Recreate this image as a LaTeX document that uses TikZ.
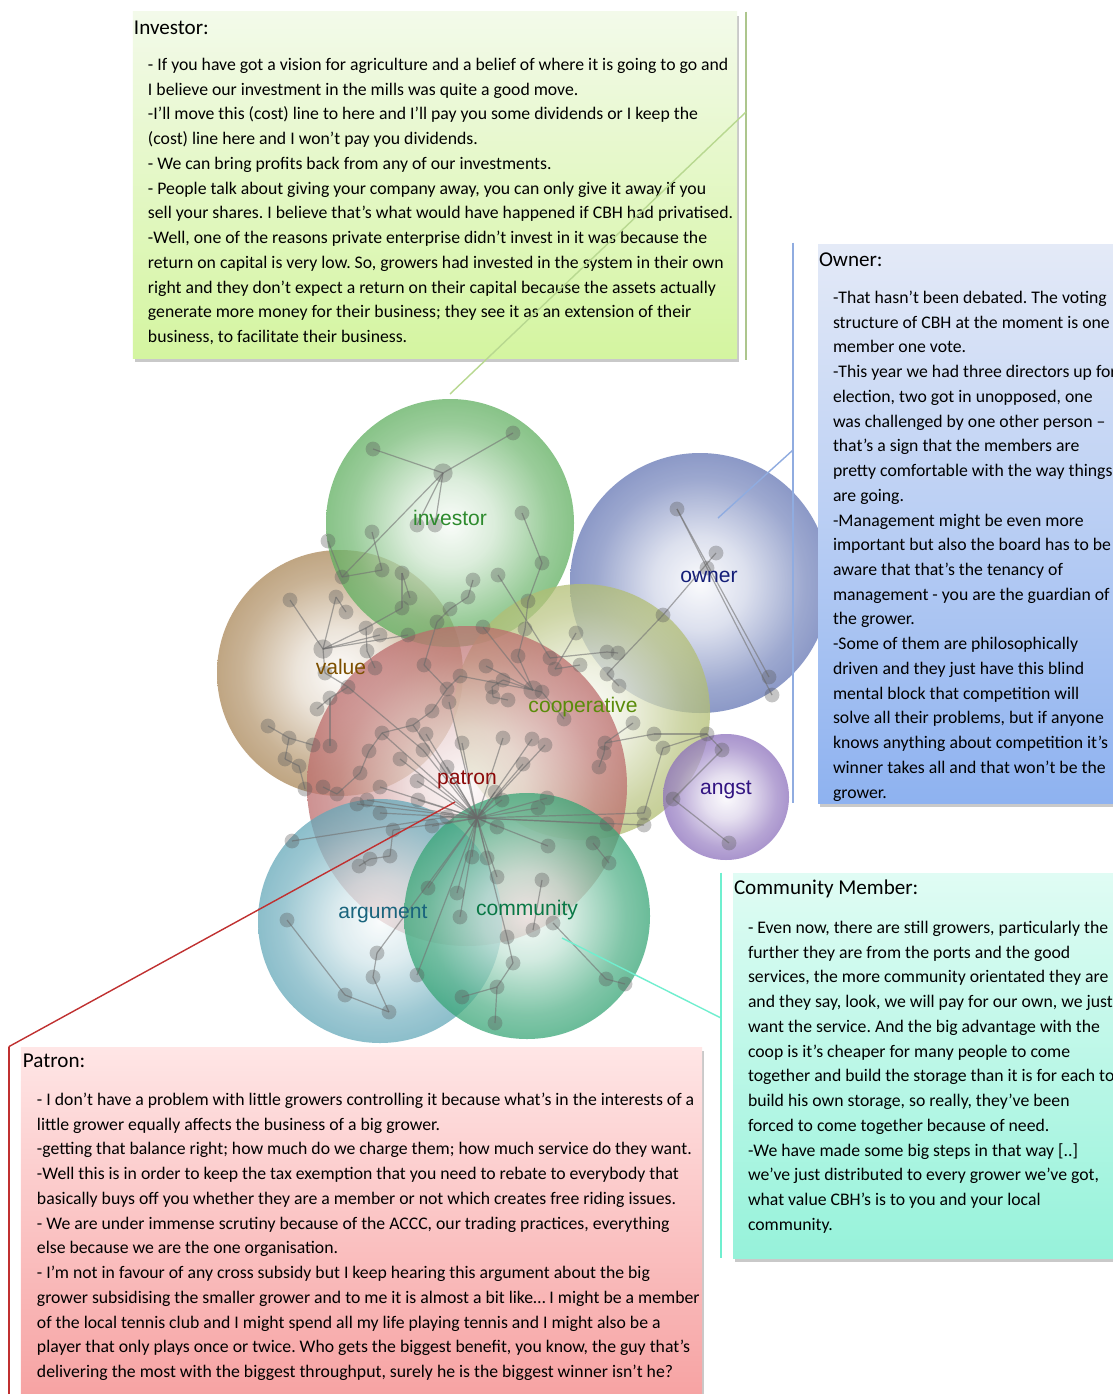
\documentclass[tikz,border=0pt]{standalone}
\usepackage{fontspec}
\setmainfont{Carlito}
\newfontfamily\bubfont{Liberation Sans}
\usepackage{tikz}
\usetikzlibrary{positioning,shadows}
\frenchspacing

% bubble rims
\definecolor{valrim}{RGB}{170,135,88}
\definecolor{invrim}{RGB}{95,175,95}
\definecolor{ownrim}{RGB}{100,118,180}
\definecolor{cooprim}{RGB}{178,190,115}
\definecolor{patrim}{RGB}{188,108,108}
\definecolor{argrim}{RGB}{100,168,185}
\definecolor{comrim}{RGB}{55,165,118}
\definecolor{angrim}{RGB}{140,112,188}
% bubble labels
\definecolor{invtxt}{HTML}{2E8B2E}
\definecolor{valtxt}{HTML}{7D5000}
\definecolor{owntxt}{HTML}{141E78}
\definecolor{cooptxt}{HTML}{5A8C0A}
\definecolor{pattxt}{HTML}{8C0A0A}
\definecolor{angtxt}{HTML}{321482}
\definecolor{argtxt}{HTML}{19647D}
\definecolor{comtxt}{HTML}{0A7846}
% quote cards
\definecolor{invtop}{HTML}{F3FAEA}
\definecolor{invbot}{HTML}{D4F5A0}
\definecolor{owntop}{HTML}{E4EAF7}
\definecolor{ownbot}{HTML}{8EB2F0}
\definecolor{comtop}{HTML}{E0FCF4}
\definecolor{combot}{HTML}{96F2DA}
\definecolor{pattop}{HTML}{FFE6E6}
\definecolor{patbot}{HTML}{F6A0A0}
\definecolor{invline}{HTML}{B8D890}
\definecolor{ownline}{HTML}{90ACE0}
\definecolor{comline}{HTML}{70EFCF}
\definecolor{patline}{HTML}{C03030}

\colorlet{bubcol}{gray}
\pgfdeclareradialshading[bubcol]{sphereshade}{\pgfpoint{0bp}{0bp}}{color(0bp)=(bubcol!4!white); color(9bp)=(bubcol!30!white); color(20bp)=(bubcol!85!white); color(25bp)=(bubcol); color(50bp)=(bubcol)}

\begin{document}
\begin{tikzpicture}[x=0.25mm,y=-0.25mm,
  sphere/.style={shading=sphereshade,fill opacity=.74},
  lbl/.style={font=\bubfont\fontsize{15}{18}\selectfont},
  dot/.style={circle,fill=black!65,fill opacity=.35,inner sep=0pt,minimum size=3.7mm},
  hubdot/.style={dot,minimum size=4.8mm},
  link/.style={draw=black!55,draw opacity=.6,line width=.3mm},
  card/.style={rectangle,inner sep=0pt,general shadow={fill=black!60,opacity=.35,shadow xshift=.6mm,shadow yshift=-.9mm}},
  head/.style={anchor=base west,inner sep=0pt,font=\fontsize{15}{18}\selectfont},
  body/.style={anchor=north west,inner sep=0pt,align=left,font=\fontsize{12.6}{17.6}\selectfont},
  bar/.style={line width=.45mm},
  pointer/.style={line width=.35mm}
]
  \useasboundingbox (0,0) rectangle (1113,1394);
  \fill[white] (0,0) rectangle (1113,1394);

  % the code bubbles
  \foreach \cx/\cy/\r/\col in {340/673/123/valrim, 450/523/124/invrim, 700/583/130/ownrim,
      582/712/128/cooprim, 467/786/160/patrim, 380/921/122/argrim, 527/916/123/comrim, 726/797/63/angrim}{
    \colorlet{bubcol}{\col}
    \shade[sphere] (\cx,\cy) circle (\r);
  }

  % the quote network
  \foreach \i/\x/\y in {1/373/449, 2/513/433, 3/443/473, 4/417/525, 5/435/525, 6/372/532, 7/522/513,
      8/328/541, 9/382/570, 10/342/577, 11/402/573, 12/542/563, 13/473/580, 14/498/575, 15/410/598,
      16/402/608, 17/468/597, 18/528/601, 19/450/609, 20/437/622, 21/483/627, 22/525/629,
      23/290/600, 24/336/597, 25/346/612, 26/366/628, 27/380/635, 28/408/635, 29/323/649, 30/367/651,
      31/375/668, 32/325/673, 33/348/687, 34/330/698, 35/317/709, 36/268/726, 37/289/738, 38/313/745,
      39/330/746, 40/285/759, 41/299/766, 42/305/789, 43/323/787, 44/337/794, 45/360/773, 46/369/751,
      47/382/733, 48/400/759, 49/413/725, 50/426/734, 51/423/750, 52/432/711, 53/447/689, 54/449/702,
      55/460/676, 56/424/665, 57/380/787, 58/417/781, 59/418/800, 60/462/743, 61/447/767,
      62/576/633, 63/518/656, 64/486/666, 65/550/658, 66/555/669, 67/580/665, 68/607/652, 69/618/653,
      70/607/674, 71/619/686, 72/663/615, 73/503/680, 74/492/687, 75/493/697, 76/508/700, 77/533/690,
      78/542/692, 79/564/719, 80/633/723, 81/654/734, 82/605/743, 83/604/753, 84/599/767, 85/663/748,
      86/503/738, 87/532/739, 88/545/745, 89/523/764, 90/547/798, 91/538/808, 92/502/800, 93/495/792,
      94/477/818, 95/497/827, 96/607/824, 97/644/813, 98/644/825, 99/548/846, 100/593/843, 101/609/863,
      102/357/804, 103/367/800, 104/380/813, 105/292/841, 106/393/830, 107/390/856, 108/370/859,
      109/359/866, 110/432/826, 111/447/817, 112/472/857, 113/487/858, 114/497/877, 115/428/888,
      116/457/893, 117/460/917, 118/542/880, 119/553/923, 120/533/930, 121/507/937, 122/513/963,
      123/497/987, 124/462/997, 125/495/1023, 126/606/979, 127/625/984, 128/287/920, 129/345/995,
      130/389/1012, 131/373/977, 132/377/953, 133/417/975, 134/677/509, 135/716/553, 136/707/568,
      137/769/677, 138/772/695, 139/707/734, 140/722/750, 141/673/799, 142/729/843}
    \coordinate (p\i) at (\x,\y);

  \foreach \a/\b in {1/3, 2/3, 3/4, 3/5, 3/10, 8/10, 10/9, 9/6, 11/15, 11/16, 7/12, 12/18, 18/22,
      13/17, 17/19, 19/20, 14/65, 20/56, 56/53, 21/77, 22/63,
      23/29, 24/29, 24/25, 29/26, 29/27, 29/28, 16/26, 29/32, 26/30, 30/31, 32/33, 33/34, 34/35,
      34/39, 36/37, 37/38, 37/40, 40/41, 41/42, 43/44, 44/45, 45/46, 46/47, 47/49, 49/52, 52/53,
      53/55, 33/51,
      47/94, 49/94, 50/94, 51/94, 48/94, 57/94, 58/94, 59/94, 60/94, 61/94, 54/94, 86/94, 87/94,
      88/94, 89/94, 90/94, 91/94, 92/94, 93/94, 95/94, 96/94, 97/94, 98/94, 99/94, 102/94, 103/94,
      104/94, 106/94, 110/94, 111/94, 112/94, 113/94, 114/94, 115/94, 116/94, 117/94, 121/94,
      132/94, 133/94, 105/111, 107/108, 108/109, 106/107, 100/101,
      62/66, 65/68, 68/69, 72/70, 135/72, 77/73, 73/74, 74/75, 75/76, 77/78, 77/64, 77/55, 77/63,
      80/82, 82/83, 83/84, 81/82, 81/139, 85/139, 85/97, 67/66, 70/71, 79/78,
      118/120, 119/126, 126/127, 121/122, 122/123, 123/124, 123/125,
      128/129, 129/130, 130/131, 131/132,
      134/137, 136/138, 134/136, 139/140, 140/141, 141/142}
    \draw[link] (p\a) -- (p\b);

  \foreach \i in {1,2,4,5,...,28,30,31,...,76,78,79,...,93,95,96,...,142}
    \node[dot] (n\i) at (p\i) {};
  \foreach \i in {3,29,77,94}
    \node[hubdot] (n\i) at (p\i) {};

  % bubble names
  \node[lbl,text=invtxt] (investor) at (450,518) {investor};
  \node[lbl,text=valtxt] (value) at (341,667) {value};
  \node[lbl,text=owntxt] (owner) at (709,577) {owner};
  \node[lbl,text=cooptxt] (cooperative) at (583,707) {cooperative};
  \node[lbl,text=pattxt] (patron) at (467,780) {patron};
  \node[lbl,text=angtxt] (angst) at (726,790) {angst};
  \node[lbl,text=argtxt] (argument) at (383,914) {argument};
  \node[lbl,text=comtxt] (community) at (527,910) {community};

  % quote cards
  \node[card,top color=invtop,bottom color=invbot,minimum width=151mm,minimum height=86.5mm] (invcard) at (435,185) {};
  \node[head] (invhead) at ([shift={(1,23)}]invcard.north west) {Investor:};
  \node[body] (invtext) at ([shift={(15,41)}]invcard.north west) {\strut- If you have got a vision for agriculture and a belief of where it is going to go and\\
I believe our investment in the mills was quite a good move.\\
-I’ll move this (cost) line to here and I’ll pay you some dividends or I keep the\\
(cost) line here and I won’t pay you dividends.\\
- We can bring profits back from any of our investments.\\
- People talk about giving your company away, you can only give it away if you\\
sell your shares. I believe that’s what would have happened if CBH had privatised.\\
-Well, one of the reasons private enterprise didn’t invest in it was because the\\
return on capital is very low. So, growers had invested in the system in their own\\
right and they don’t expect a return on their capital because the assets actually\\
generate more money for their business; they see it as an extension of their\\
business, to facilitate their business.};

  \node[card,top color=owntop,bottom color=ownbot,minimum width=80.5mm,minimum height=139.5mm] (owncard) at (979,524) {};
  \node[head] (ownhead) at ([shift={(1,22)}]owncard.north west) {Owner:};
  \node[body] (owntext) at ([shift={(15,41)}]owncard.north west) {\strut-That hasn’t been debated. The voting\\
structure of CBH at the moment is one\\
member one vote.\\
-This year we had three directors up for\\
election, two got in unopposed, one\\
was challenged by one other person –\\
that’s a sign that the members are\\
pretty comfortable with the way things\\
are going.\\
-Management might be even more\\
important but also the board has to be\\
aware that that’s the tenancy of\\
management - you are the guardian of\\
the grower.\\
-Some of them are philosophically\\
driven and they just have this blind\\
mental block that competition will\\
solve all their problems, but if anyone\\
knows anything about competition it’s\\
winner takes all and that won’t be the\\
grower.};

  \node[card,top color=comtop,bottom color=combot,minimum width=101.75mm,minimum height=96.25mm] (comcard) at (936.5,1065.5) {};
  \node[head] (comhead) at ([shift={(1,22)}]comcard.north west) {Community Member:};
  \node[body] (comtext) at ([shift={(15,43)}]comcard.north west) {\strut- Even now, there are still growers, particularly the\\
further they are from the ports and the good\\
services, the more community orientated they are\\
and they say, look, we will pay for our own, we just\\
want the service. And the big advantage with the\\
coop is it’s cheaper for many people to come\\
together and build the storage than it is for each to\\
build his own storage, so really, they’ve been\\
forced to come together because of need.\\
-We have made some big steps in that way [..]\\
we’ve just distributed to every grower we’ve got,\\
what value CBH’s is to you and your local\\
community.};

  \node[card,top color=pattop,bottom color=patbot,minimum width=170.25mm,minimum height=90.75mm] (patcard) at (361.5,1228.5) {};
  \node[head] (pathead) at ([shift={(2,21)}]patcard.north west) {Patron:};
  \node[body] (pattext) at ([shift={(16,41)}]patcard.north west) {\strut- I don’t have a problem with little growers controlling it because what’s in the interests of a\\
little grower equally affects the business of a big grower.\\
-getting that balance right; how much do we charge them; how much service do they want.\\
-Well this is in order to keep the tax exemption that you need to rebate to everybody that\\
basically buys off you whether they are a member or not which creates free riding issues.\\
- We are under immense scrutiny because of the ACCC, our trading practices, everything\\
else because we are the one organisation.\\
- I’m not in favour of any cross subsidy but I keep hearing this argument about the big\\
grower subsidising the smaller grower and to me it is almost a bit like… I might be a member\\
of the local tennis club and I might spend all my life playing tennis and I might also be a\\
player that only plays once or twice. Who gets the biggest benefit, you know, the guy that’s\\
delivering the most with the biggest throughput, surely he is the biggest winner isn’t he?};

  % callout bars and pointers
  \coordinate (invbartop) at ([shift={(9,0)}]invcard.north east);
  \coordinate (invbarbot) at ([shift={(9,2)}]invcard.south east);
  \coordinate (invjoin) at (746,112);
  \coordinate (invtip) at (450,394);
  \draw[bar,invline!80!gray] (invbartop) -- (invbarbot);
  \draw[pointer,invline] (invjoin) -- (invtip);

  \coordinate (ownbartop) at ([shift={(-25,-2)}]owncard.north west);
  \coordinate (ownbarbot) at ([shift={(-25,0)}]owncard.south west);
  \coordinate (ownjoin) at (793,450);
  \coordinate (owntip) at (718,518);
  \draw[bar,ownline] (ownbartop) -- (ownbarbot);
  \draw[pointer,ownline] (ownjoin) -- (owntip);

  \coordinate (combartop) at ([shift={(-12,0)}]comcard.north west);
  \coordinate (combarbot) at ([shift={(-12,0)}]comcard.south west);
  \coordinate (comjoin) at (721,1018);
  \coordinate (comtip) at (562,938);
  \draw[bar,comline] (combartop) -- (combarbot);
  \draw[pointer,comline] (comjoin) -- (comtip);

  \coordinate (patbartop) at ([shift={(-12,0)}]patcard.north west);
  \coordinate (patbarbot) at ([shift={(-12,0)}]patcard.south west);
  \coordinate (pattip) at (455,802);
  \draw[bar,patline] (patbartop) -- (patbarbot);
  \draw[pointer,patline] (patbartop) -- (pattip);
\end{tikzpicture}
\end{document}
